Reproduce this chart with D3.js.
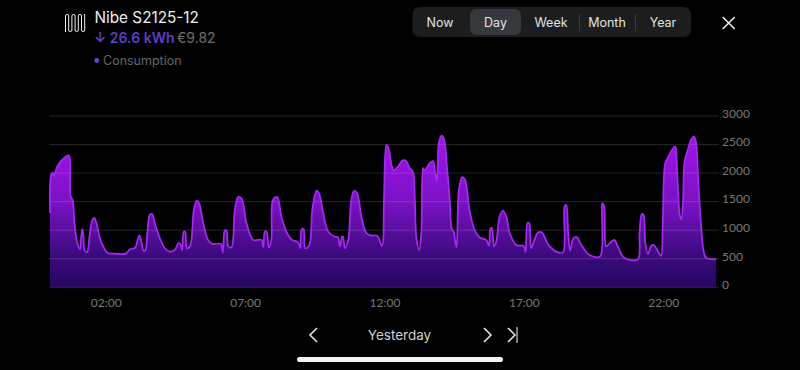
<!DOCTYPE html>
<html>
<head>
<meta charset="utf-8">
<script src="https://cdn.jsdelivr.net/npm/d3@7"></script>
<style>
    html, body { margin: 0; padding: 0; background: #000; }
    svg { display: block; }
    .axis text { font-family: Lato, sans-serif; font-size: 12px; fill: #787878; }
    .ui { font-family: Inter, "Noto Sans", sans-serif; }
</style>
</head>
<body>
<div id="viz"></div>
<script>
// Hour of the day and watts
const hours = [
    0, .04, .1, .14, .24, .38, .54, .68, .74, .81, .88, .98, 1.08, 1.12, 1.16, 1.2, 1.24, 1.33, 1.43, 1.53,
    1.59, 1.67, 1.79, 1.94, 2.07, 2.27, 2.72, 2.87, 3.05, 3.13, 3.21, 3.29, 3.35, 3.42, 3.49, 3.58, 3.66, 3.76, 3.94, 4.12,
    4.3, 4.48, 4.6, 4.67, 4.74, 4.8, 4.85, 4.91, 5.02, 5.16, 5.26, 5.35, 5.5, 5.67, 5.82, 6.13, 6.2, 6.27, 6.33, 6.4,
    6.51, 6.63, 6.75, 6.87, 7.05, 7.29, 7.59, 7.65, 7.71, 7.77, 7.85, 7.94, 8.0, 8.15, 8.3, 8.48, 8.66, 8.9, 8.98, 9.03,
    9.1, 9.15, 9.3, 9.41, 9.56, 9.65, 9.8, 9.98, 10.2, 10.33, 10.4, 10.48, 10.51, 10.58, 10.7, 10.81, 10.91, 11.02, 11.17, 11.35,
    11.53, 11.73, 11.91, 11.98, 12.07, 12.16, 12.25, 12.33, 12.49, 12.64, 12.78, 12.9, 13.02, 13.09, 13.15, 13.25, 13.32, 13.38, 13.42, 13.5,
    13.62, 13.74, 13.82, 13.88, 13.95, 14.05, 14.14, 14.24, 14.34, 14.41, 14.48, 14.58, 14.67, 14.79, 14.89, 15.05, 15.23, 15.41, 15.65, 15.75,
    15.8, 15.85, 15.93, 16.01, 16.13, 16.25, 16.37, 16.49, 16.73, 16.99, 17.06, 17.13, 17.19, 17.26, 17.38, 17.5, 17.65, 17.86, 18.16, 18.4,
    18.46, 18.52, 18.59, 18.66, 18.78, 18.9, 19.06, 19.3, 19.48, 19.74, 19.81, 19.88, 19.95, 20.07, 20.25, 20.37, 20.55, 20.73, 21.09, 21.15,
    21.23, 21.29, 21.36, 21.45, 21.57, 21.65, 21.77, 21.92, 21.98, 22.07, 22.16, 22.28, 22.43, 22.49, 22.55, 22.59, 22.65, 22.71, 22.76, 22.88,
    23.0, 23.1, 23.18, 23.26, 23.36, 23.44, 23.54, 23.9
];
const watts = [
    1300, 1970, 2010, 1950, 2090, 2205, 2280, 2310, 1590, 1530, 1120, 770, 670, 890, 1020, 890, 655, 615, 950, 1190,
    1215, 1120, 860, 685, 600, 590, 590, 665, 690, 800, 910, 770, 645, 645, 950, 1270, 1285, 1120, 860, 685,
    625, 655, 770, 770, 655, 975, 975, 685, 715, 1355, 1520, 1470, 1120, 830, 760, 760, 610, 995, 995, 715,
    700, 1355, 1580, 1560, 1120, 830, 830, 700, 975, 975, 695, 830, 1530, 1580, 1240, 975, 840, 785, 685, 1020,
    1020, 685, 740, 1355, 1695, 1650, 1300, 975, 890, 875, 715, 890, 890, 685, 830, 1530, 1690, 1650, 1240, 950,
    905, 905, 725, 1530, 2500, 2410, 2145, 2050, 2120, 2220, 2210, 2090, 2020, 1530, 830, 655, 950, 2090, 2050, 2080,
    2175, 2210, 2000, 1855, 2530, 2655, 2585, 2120, 1530, 1035, 975, 700, 1710, 1930, 1885, 1355, 1005, 875, 830, 730,
    1035, 1035, 715, 800, 1240, 1345, 1240, 950, 740, 725, 615, 1125, 1125, 685, 830, 960, 960, 760, 625, 610,
    1415, 1445, 950, 645, 860, 880, 740, 585, 540, 540, 1475, 1415, 715, 770, 830, 715, 540, 490, 490, 950,
    1285, 1270, 770, 585, 725, 745, 665, 550, 1065, 2175, 2265, 2380, 2470, 2120, 1530, 1270, 1195, 1530, 2175, 2410,
    2585, 2645, 2530, 1825, 1065, 655, 515, 497
];
const yTicks = [0, 500, 1000, 1500, 2000, 2500, 3000];
const xTicks = [2, 7, 12, 17, 22];
const xTickLabels = ["02:00", "07:00", "12:00", "17:00", "22:00"];
const ranges = ["Now", "Day", "Week", "Month", "Year"];
const rangeCenters = [440, 495.5, 551, 607, 663];

const width = 800, height = 370;

const svg = d3.select("#viz")
    .append("svg")
    .attr("width", width)
    .attr("height", height);

const xScale = d3.scaleLinear().domain([0, 24]).range([50, 719]);
const yScale = d3.scaleLinear().domain([0, 3000]).range([287.3, 116]);

const points = hours.map((h, i) => [h, watts[i]]);

const defs = svg.append("defs");

// Gradient for the area
const grad = defs.append("linearGradient")
    .attr("id", "areaGrad")
    .attr("gradientUnits", "userSpaceOnUse")
    .attr("x1", 0).attr("x2", 0)
    .attr("y1", yScale(2700)).attr("y2", yScale(0));
grad.append("stop").attr("offset", "0%").attr("stop-color", "#a412ee");
grad.append("stop").attr("offset", "45%").attr("stop-color", "#7a12c4");
grad.append("stop").attr("offset", "80%").attr("stop-color", "#3a0a7c");
grad.append("stop").attr("offset", "100%").attr("stop-color", "#260760");

// The reference is a soft phone screenshot
defs.append("filter")
    .attr("id", "soft")
    .append("feGaussianBlur")
    .attr("stdDeviation", 0.35);

const chartCurve = d3.curveCatmullRom.alpha(0.5);

const area = d3.area()
    .x(d => xScale(d[0]))
    .y0(yScale(0))
    .y1(d => yScale(d[1]))
    .curve(chartCurve);

const line = d3.line()
    .x(d => xScale(d[0]))
    .y(d => yScale(d[1]))
    .curve(chartCurve);

svg.append("path")
    .datum(points)
    .attr("d", area)
    .attr("fill", "url(#areaGrad)");

// Grid sits on top of the area, it shows through faintly
svg.append("g")
    .selectAll("line")
    .data(yTicks)
    .join("line")
    .attr("x1", xScale(0) - 1)
    .attr("x2", xScale(24))
    .attr("y1", d => yScale(d))
    .attr("y2", d => yScale(d))
    .attr("stroke", "#fff")
    .attr("stroke-opacity", 0.15)
    .attr("stroke-width", 1);

svg.append("path")
    .datum(points)
    .attr("d", line)
    .attr("fill", "none")
    .attr("stroke", "#a828f8")
    .attr("stroke-width", 1.7)
    .attr("filter", "url(#soft)");

// Axes
const yAxis = d3.axisRight(yScale)
    .tickValues(yTicks)
    .tickFormat(d => d)
    .tickSize(0)
    .tickPadding(3);
svg.append("g")
    .attr("class", "axis")
    .attr("transform", `translate(${xScale(24)},-2.5)`)
    .call(yAxis)
    .call(g => g.select(".domain").remove());

const xAxis = d3.axisBottom(xScale)
    .tickValues(xTicks)
    .tickFormat((d, i) => xTickLabels[i])
    .tickSize(0)
    .tickPadding(11);
svg.append("g")
    .attr("class", "axis")
    .attr("transform", `translate(0,${yScale(0)})`)
    .call(xAxis)
    .call(g => g.select(".domain").remove());

// Header
const header = svg.append("g").attr("class", "ui");

header.append("path")
    .attr("d", "M65.5 32V16a1.6 1.6 0 0 1 3.2 0V30a1.6 1.6 0 0 0 3.2 0V16a1.6 1.6 0 0 1 3.2 0V30a1.6 1.6 0 0 0 3.2 0V16a1.6 1.6 0 0 1 3.2 0V30a1.6 1.6 0 0 0 3.2 0V14")
    .attr("fill", "none")
    .attr("stroke", "#f0f0f0")
    .attr("stroke-width", 1);

header.append("text")
    .attr("x", 94.5).attr("y", 22.5)
    .attr("fill", "#efefef")
    .style("font-size", "15.3px")
    .text("Nibe S2125-12");

header.append("text")
    .attr("x", 94).attr("y", 43)
    .attr("fill", "#5f3fc8")
    .style("font-size", "14px")
    .style("font-weight", 600)
    .text("↓ 26.6 kWh");

header.append("text")
    .attr("x", 177).attr("y", 43)
    .attr("fill", "#6f6f6f")
    .style("font-size", "14px")
    .text("€9.82");

header.append("circle")
    .attr("cx", 96.7).attr("cy", 60.5).attr("r", 2.4)
    .attr("fill", "#6a45d0");

header.append("text")
    .attr("x", 103).attr("y", 65)
    .attr("fill", "#666")
    .style("font-size", "12.5px")
    .text("Consumption");

// Range selector
const selector = svg.append("g").attr("class", "ui");

selector.append("rect")
    .attr("x", 412.5).attr("y", 7)
    .attr("width", 278.5).attr("height", 30)
    .attr("rx", 7)
    .attr("fill", "#1c1d1f");

selector.append("rect")
    .attr("x", 470).attr("y", 9)
    .attr("width", 51).attr("height", 26)
    .attr("rx", 6)
    .attr("fill", "#35383d");

selector.selectAll("line")
    .data([579.5, 635.5])
    .join("line")
    .attr("x1", d => d).attr("x2", d => d)
    .attr("y1", 14).attr("y2", 31)
    .attr("stroke", "#3a3b3e");

selector.selectAll("text")
    .data(ranges)
    .join("text")
    .attr("x", (d, i) => rangeCenters[i])
    .attr("y", 27)
    .attr("text-anchor", "middle")
    .attr("fill", "#e2e2e2")
    .style("font-size", "12.5px")
    .text(d => d);

svg.append("path")
    .attr("d", "M722.7 17L734.7 29M734.7 17L722.7 29")
    .attr("stroke", "#f2f2f2")
    .attr("stroke-width", 1.5)
    .attr("fill", "none");

// Bottom navigation
svg.append("text")
    .attr("class", "ui")
    .attr("x", 399.5).attr("y", 339.5)
    .attr("text-anchor", "middle")
    .attr("fill", "#cfcfcf")
    .style("font-size", "13.5px")
    .text("Yesterday");

svg.append("path")
    .attr("d", "M317 328L310 335L317 342M484 328L491 335L484 342M508 328L515 335L508 342")
    .attr("fill", "none")
    .attr("stroke", "#ececec")
    .attr("stroke-width", 1.5);

svg.append("line")
    .attr("x1", 517).attr("x2", 517)
    .attr("y1", 327).attr("y2", 343)
    .attr("stroke", "#a5a5a5")
    .attr("stroke-width", 1.5);

svg.append("rect")
    .attr("x", 297).attr("y", 357)
    .attr("width", 206).attr("height", 5)
    .attr("rx", 2.5)
    .attr("fill", "#f5f5f5");
</script>
</body>
</html>
